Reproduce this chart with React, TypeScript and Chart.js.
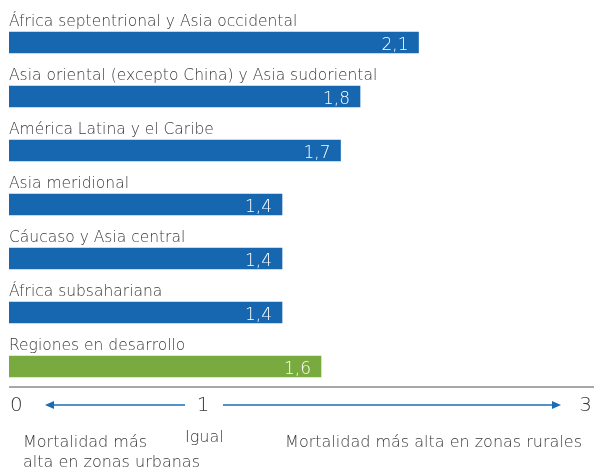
import React, { useEffect, useRef } from "react";
import { Chart, registerables } from "chart.js";

Chart.register(...registerables);

const categories = [
  "África septentrional y Asia occidental",
  "Asia oriental (excepto China) y Asia sudoriental",
  "América Latina y el Caribe",
  "Asia meridional",
  "Cáucaso y Asia central",
  "África subsahariana",
  "Regiones en desarrollo",
];
const values = [2.1, 1.8, 1.7, 1.4, 1.4, 1.4, 1.6];
const valueLabels = ["2,1", "1,8", "1,7", "1,4", "1,4", "1,4", "1,6"];
const barColors = ["#1667b0", "#1667b0", "#1667b0", "#1667b0", "#1667b0", "#1667b0", "#79aa3f"];
const tickValues = [0, 1, 3];
const tickLabels = ["0", "1", "3"];
const leftNote = ["Mortalidad más", "alta en zonas urbanas"];
const middleNote = "Igual";
const rightNote = "Mortalidad más alta en zonas rurales";

const FONT = "'DejaVu Sans', sans-serif";
const TEXT = "#3a3a3a";
const ARROW = "#1a6db4";

const overlay = {
  id: "overlay",
  afterDatasetsDraw(chart: any) {
    const ctx = chart.ctx;
    const xs = chart.scales.x;
    const meta = chart.getDatasetMeta(0);
    ctx.save();
    // category labels and value labels
    meta.data.forEach((bar: any, i: number) => {
      const top = bar.y - bar.height / 2;
      ctx.fillStyle = TEXT;
      ctx.font = `200 15.5px ${FONT}`;
      ctx.textAlign = "left";
      ctx.textBaseline = "alphabetic";
      ctx.fillText(categories[i], xs.left, top - 6);
      ctx.fillStyle = "#ffffff";
      ctx.font = `200 17px ${FONT}`;
      ctx.textAlign = "right";
      ctx.fillText(valueLabels[i], bar.x - 10, bar.y + 7);
    });
    // axis line
    const axisY = 387;
    ctx.strokeStyle = "#8a8a8a";
    ctx.lineWidth = 1.5;
    ctx.beginPath();
    ctx.moveTo(xs.left, axisY);
    ctx.lineTo(chart.width, axisY);
    ctx.stroke();
    // tick labels
    const tickY = 405;
    ctx.fillStyle = TEXT;
    ctx.font = `200 20px ${FONT}`;
    ctx.textBaseline = "middle";
    tickValues.forEach((v, i) => {
      const px = xs.getPixelForValue(v);
      ctx.textAlign = i === 0 ? "left" : i === tickValues.length - 1 ? "right" : "center";
      ctx.fillText(tickLabels[i], i === tickValues.length - 1 ? px - 2 : px + (i === 0 ? 1 : -1), tickY + 1);
    });
    // arrows
    const p0 = xs.getPixelForValue(0);
    const p1 = xs.getPixelForValue(1);
    const p3 = xs.getPixelForValue(3);
    ctx.strokeStyle = ARROW;
    ctx.fillStyle = ARROW;
    ctx.lineWidth = 1.5;
    ctx.beginPath();
    ctx.moveTo(p1 - 19, tickY);
    ctx.lineTo(p0 + 40, tickY);
    ctx.stroke();
    ctx.beginPath();
    ctx.moveTo(p0 + 36, tickY);
    ctx.lineTo(p0 + 45, tickY - 4);
    ctx.lineTo(p0 + 45, tickY + 4);
    ctx.closePath();
    ctx.fill();
    ctx.beginPath();
    ctx.moveTo(p1 + 19, tickY);
    ctx.lineTo(p3 - 38, tickY);
    ctx.stroke();
    ctx.beginPath();
    ctx.moveTo(p3 - 33, tickY);
    ctx.lineTo(p3 - 42, tickY - 4);
    ctx.lineTo(p3 - 42, tickY + 4);
    ctx.closePath();
    ctx.fill();
    // notes
    ctx.fillStyle = TEXT;
    ctx.font = `200 16px ${FONT}`;
    ctx.textBaseline = "alphabetic";
    ctx.textAlign = "left";
    ctx.fillText(leftNote[0], p0 + 14, 447);
    ctx.fillText(leftNote[1], p0 + 14, 467);
    ctx.fillText(middleNote, p1 - 19, 442);
    ctx.textAlign = "right";
    ctx.fillText(rightNote, p3 - 12, 447);
    ctx.restore();
  },
};

export default function App() {
  const ref = useRef<HTMLCanvasElement | null>(null);
  useEffect(() => {
    if (!ref.current) return;
    const chart = new Chart(ref.current, {
      type: "bar",
      data: {
        labels: categories,
        datasets: [
          {
            data: values,
            backgroundColor: barColors,
            barThickness: 21,
            borderWidth: 0,
          },
        ],
      },
      options: {
        indexAxis: "y",
        animation: false,
        responsive: false,
        maintainAspectRatio: false,
        layout: { padding: { left: 9, right: 0, top: 15.5, bottom: 78.5 } },
        plugins: { legend: { display: false }, tooltip: { enabled: false } },
        scales: {
          x: { display: false, min: 0, max: 3 },
          y: { display: false },
        },
      },
      plugins: [overlay],
    });
    return () => chart.destroy();
  }, []);
  return (
    <div style={{ position: "absolute", left: 0, top: 0, width: 594, height: 472, background: "#fff" }}>
      <canvas ref={ref} width={594} height={472} style={{ width: 594, height: 472 }} />
    </div>
  );
}
